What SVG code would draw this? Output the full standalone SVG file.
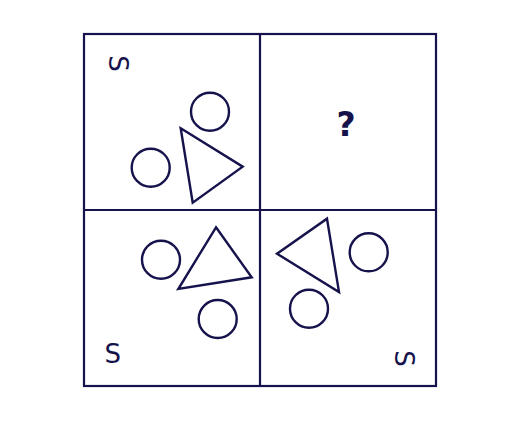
<svg xmlns="http://www.w3.org/2000/svg" width="520" height="423" viewBox="0 0 520 423">
<style>
.ln{fill:none;stroke:#16134c;stroke-width:2.2}
.sh{fill:none;stroke:#16134c;stroke-width:2.4}
.t{font-family:"DejaVu Sans",sans-serif;font-size:26px;fill:#16134c;text-anchor:middle;dominant-baseline:central}
.q{font-family:"DejaVu Sans",sans-serif;font-size:33px;font-weight:bold;fill:#16134c;text-anchor:middle;dominant-baseline:central}
</style>
<rect width="520" height="423" fill="#fff"/>
<g id="grid">
<rect class="ln" x="84" y="34" width="352" height="352"/>
<line class="ln" x1="260" y1="34" x2="260" y2="386"/>
<line class="ln" x1="84" y1="210" x2="436" y2="210"/>
</g>
<g id="cell-tl">
<text class="t" transform="translate(117.7 63.5) rotate(90)">S</text>
<circle class="sh" cx="210" cy="111.7" r="19"/>
<circle class="sh" cx="150.7" cy="167.7" r="19"/>
<polygon class="sh" points="180.7,128.3 242.7,166.7 192.7,202.7"/>
</g>
<g id="cell-tr">
<text class="q" x="346" y="124.5">?</text>
</g>
<g id="cell-bl">
<circle class="sh" cx="161" cy="259.7" r="19"/>
<polygon class="sh" points="216,227.3 251.7,277.3 178.3,289"/>
<circle class="sh" cx="217.7" cy="319" r="19"/>
<text class="t" x="112.8" y="354">S</text>
</g>
<g id="cell-br">
<polygon class="sh" points="327,218.7 339,292 277,253.7"/>
<circle class="sh" cx="368.7" cy="252.3" r="19"/>
<circle class="sh" cx="309" cy="308.7" r="19"/>
<text class="t" transform="translate(403.7 358.5) rotate(90)">S</text>
</g>
</svg>
